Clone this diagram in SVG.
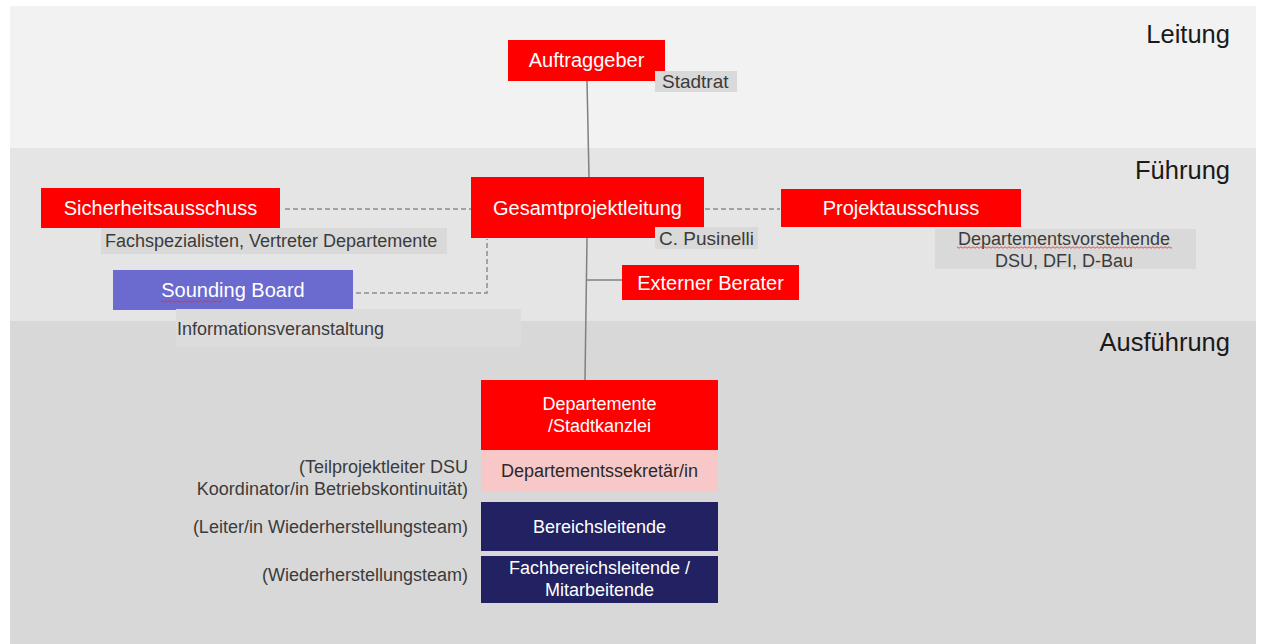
<svg xmlns="http://www.w3.org/2000/svg" width="1262" height="644" viewBox="0 0 1262 644">
<defs>
<style>
text{font-family:"Liberation Sans",Arial,sans-serif}
.band{font-size:25.5px;fill:#1a1a1a;text-anchor:end}
.red{fill:#ff0000}
.lbl{font-size:20px;fill:#ffffff;text-anchor:middle}
.gbox{fill:#d9d9d9}
.gtxt{font-size:18px;fill:#3b3b3b}
.btxt{font-size:18px;fill:#ffffff;text-anchor:middle}
.navy{fill:#222262}
.side{font-size:18px;fill:#3b3b3b;text-anchor:end}
.line{stroke:#808080;stroke-width:1.5;fill:none}
.dash{stroke:#8c8c8c;stroke-width:1.5;fill:none;stroke-dasharray:5 3}
</style>
<pattern id="squiggle" x="0" y="0" width="4" height="3" patternUnits="userSpaceOnUse">
<path d="M0,1.5 Q1,0 2,1.5 T4,1.5" stroke="#e03030" stroke-width="0.8" fill="none"/>
</pattern>
</defs>
<rect width="1262" height="644" fill="#ffffff"/>
<g id="bands">
<rect x="10" y="6" width="1246" height="142" fill="#f2f2f2"/>
<rect x="10" y="148" width="1246" height="173" fill="#e5e5e5"/>
<rect x="10" y="321" width="1246" height="323" fill="#d8d8d8"/>
<text class="band" x="1230" y="43">Leitung</text>
<text class="band" x="1230" y="179">Führung</text>
<text class="band" x="1230" y="351">Ausführung</text>
</g>
<g id="connectors">
<path class="line" d="M587,81 L589,177"/>
<path class="line" d="M587,238 L585,380"/>
<path class="line" d="M586.5,280 L622,280"/>
<path class="dash" d="M285,209 L471,209"/>
<path class="dash" d="M705,209 L780,209"/>
<path class="dash" d="M356,293 L487,293 L487,239"/>
</g>
<g id="auftraggeber">
<rect class="red" x="508" y="40" width="157" height="41"/>
<text class="lbl" x="586.5" y="67">Auftraggeber</text>
<rect class="gbox" x="655" y="71" width="82" height="21"/>
<text class="gtxt" x="662" y="88" style="font-size:19px">Stadtrat</text>
</g>
<g id="gesamtprojektleitung">
<rect class="red" x="471" y="177" width="233" height="61"/>
<text class="lbl" x="587.5" y="215">Gesamtprojektleitung</text>
<rect class="gbox" x="655" y="227" width="103" height="22"/>
<text class="gtxt" x="659" y="245" style="font-size:19px">C. Pusinelli</text>
</g>
<g id="sicherheitsausschuss">
<rect class="red" x="41" y="188" width="239" height="40"/>
<text class="lbl" x="160.5" y="215">Sicherheitsausschuss</text>
<rect class="gbox" x="101" y="228" width="346" height="26"/>
<text class="gtxt" x="105" y="247">Fachspezialisten, Vertreter Departemente</text>
</g>
<g id="projektausschuss">
<rect class="red" x="781" y="189" width="240" height="38"/>
<text class="lbl" x="901" y="215">Projektausschuss</text>
<rect class="gbox" x="935" y="229" width="261" height="40"/>
<text class="gtxt" x="1064" y="245" text-anchor="middle">Departementsvorstehende</text>
<rect x="957" y="246" width="215" height="3" fill="url(#squiggle)"/>
<text class="gtxt" x="1064" y="267" text-anchor="middle">DSU, DFI, D-Bau</text>
</g>
<g id="sounding-board">
<rect x="113" y="270" width="240" height="40" fill="#6a6acf"/>
<text class="lbl" x="233" y="297">Sounding Board</text>
<rect x="161" y="300" width="61" height="3" fill="url(#squiggle)"/>
<rect x="176" y="309" width="345" height="38" fill="#dcdcdc"/>
<text class="gtxt" x="177" y="335">Informationsveranstaltung</text>
</g>
<g id="externer-berater">
<rect class="red" x="622" y="265" width="177" height="35"/>
<text class="lbl" x="710.5" y="290">Externer Berater</text>
</g>
<g id="departemente">
<rect class="red" x="481" y="380" width="237" height="70"/>
<text class="btxt" x="599.5" y="410">Departemente</text>
<text class="btxt" x="599.5" y="432">/Stadtkanzlei</text>
</g>
<g id="departementssekretaer">
<rect x="481" y="450" width="237" height="41" fill="#f8c8c8"/>
<text class="btxt" x="599.5" y="477" style="fill:#2a2a2a">Departementssekretär/in</text>
<text class="side" x="468" y="473">(Teilprojektleiter DSU</text>
<text class="side" x="468" y="495">Koordinator/in Betriebskontinuität)</text>
</g>
<g id="bereichsleitende">
<rect class="navy" x="481" y="502" width="237" height="49"/>
<text class="btxt" x="599.5" y="533">Bereichsleitende</text>
<text class="side" x="468" y="533">(Leiter/in Wiederherstellungsteam)</text>
</g>
<g id="fachbereichsleitende">
<rect class="navy" x="481" y="556" width="237" height="47"/>
<text class="btxt" x="599.5" y="574">Fachbereichsleitende /</text>
<text class="btxt" x="599.5" y="596">Mitarbeitende</text>
<text class="side" x="468" y="581">(Wiederherstellungsteam)</text>
</g>
</svg>
